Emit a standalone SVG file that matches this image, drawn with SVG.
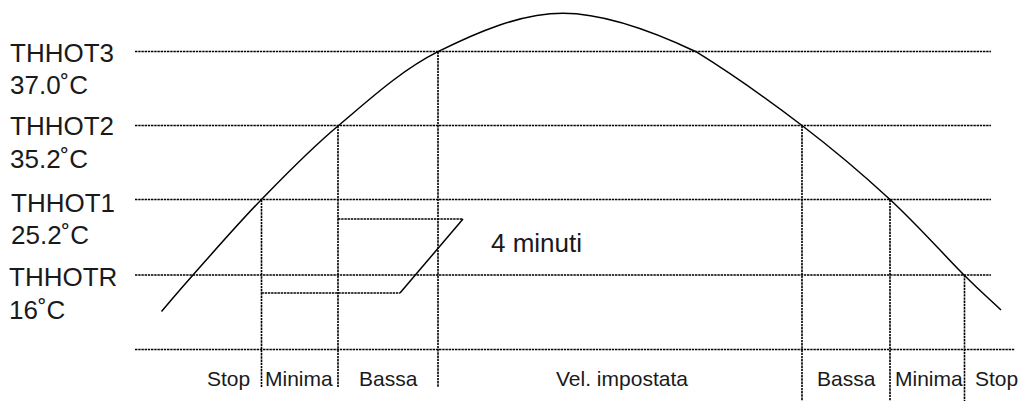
<svg xmlns="http://www.w3.org/2000/svg" width="1020" height="401" viewBox="0 0 1020 401">
<style>
.dash{stroke:#000;stroke-width:1.6;stroke-dasharray:2.4 0.8;fill:none}
.solid{stroke:#000;stroke-width:1.5;fill:none}
.lbl{font-family:"Liberation Sans",Arial,sans-serif;font-size:26px;fill:#1a1a1a}
.sm{font-family:"Liberation Sans",Arial,sans-serif;font-size:21px;fill:#1a1a1a}
</style>
<rect width="1020" height="401" fill="#fff"/>
<g id="grid">
<line class="dash" x1="135" y1="51.5" x2="991" y2="51.5"/>
<line class="dash" x1="135" y1="125.5" x2="991" y2="125.5"/>
<line class="dash" x1="135" y1="199.5" x2="991" y2="199.5"/>
<line class="dash" x1="135" y1="275" x2="991" y2="275"/>
<line class="dash" x1="135" y1="349.5" x2="1015" y2="349.5"/>
</g>
<g id="connectors">
<line class="dash" x1="261.5" y1="199.5" x2="261.5" y2="387"/>
<line class="dash" x1="338" y1="125.5" x2="338" y2="387"/>
<line class="dash" x1="438" y1="51.5" x2="438" y2="387"/>
<line class="dash" x1="802" y1="125.5" x2="802" y2="401"/>
<line class="dash" x1="890" y1="199.5" x2="890" y2="401"/>
<line class="dash" x1="964.5" y1="275" x2="964.5" y2="401"/>
<line class="dash" x1="338" y1="219" x2="463" y2="219"/>
<line class="dash" x1="261.5" y1="293" x2="400" y2="293"/>
<line class="solid" x1="463" y1="219" x2="400" y2="293"/>
</g>
<g id="curve">
<path class="solid" d="M161.5,311.5 C172,299.33 176.42,293.58 193,275 C209.58,256.42 236.83,224.83 261,200 C285.17,175.17 308.5,150.72 338,126 C367.5,101.28 400.5,70.48 438,51.7 C475.5,32.92 520,13.3 563,13.3 C606,13.3 656.17,33 696,51.7 C735.83,76.33 769.67,100.87 802,125.5 C834.33,150.13 863,174.58 890,199.5 C917,224.42 945.5,256.58 964,275 C982.5,293.42 988.67,298.33 1001,310"/>
</g>
<g id="labels-left">
<text class="lbl" x="10" y="62">THHOT3</text>
<text class="lbl" x="10" y="94">37.0˚C</text>
<text class="lbl" x="10" y="135">THHOT2</text>
<text class="lbl" x="10" y="168">35.2˚C</text>
<text class="lbl" x="11" y="212">THHOT1</text>
<text class="lbl" x="11" y="244">25.2˚C</text>
<text class="lbl" x="9" y="286">THHOTR</text>
<text class="lbl" x="9" y="319">16˚C</text>
</g>
<g id="label-4min">
<text class="lbl" x="491" y="252">4 minuti</text>
</g>
<g id="labels-bottom">
<text class="sm" x="207" y="386">Stop</text>
<text class="sm" x="265" y="386">Minima</text>
<text class="sm" x="359" y="386">Bassa</text>
<text class="sm" x="556" y="386">Vel. impostata</text>
<text class="sm" x="817" y="386">Bassa</text>
<text class="sm" x="895" y="386">Minima</text>
<text class="sm" x="975" y="386">Stop</text>
</g>
</svg>
